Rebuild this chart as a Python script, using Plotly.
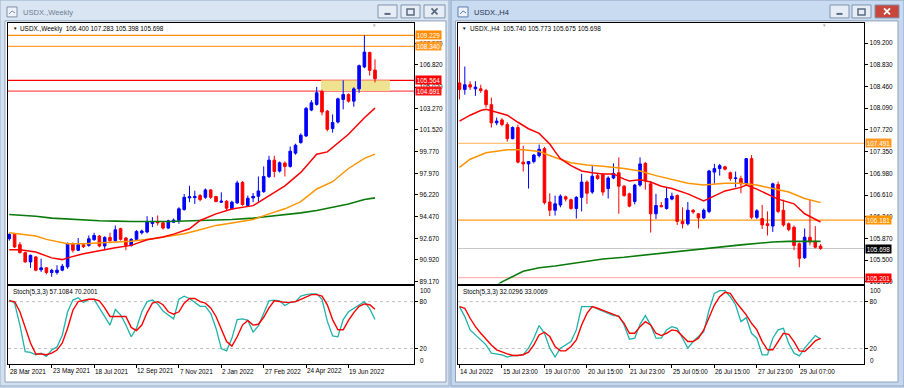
import plotly.graph_objects as go

W, H = 904, 388
def fx(x): return x / W
def fy(y): return 1 - y / H

FONT = "Liberation Sans"

# ---------------- weekly data ----------------
wk_labels = ["28 Mar 2021", "23 May 2021", "18 Jul 2021", "12 Sep 2021", "7 Nov 2021",
             "2 Jan 2022", "27 Feb 2022", "24 Apr 2022", "19 Jun 2022"]
wk_label_idx = [0, 8, 16, 24, 32, 40, 48, 56, 64]
wk_open = [92.66, 93.00, 92.17, 91.52, 90.76, 91.17, 90.12, 90.28, 89.90, 89.90,
           90.09, 90.36, 92.25, 91.71, 92.17, 92.11, 92.57, 92.87, 92.06, 92.76,
           92.49, 93.47, 92.71, 92.11, 92.60, 93.14, 93.20, 93.90, 94.06, 93.95,
           93.52, 94.00, 94.14, 95.03, 95.98, 96.00, 96.17, 96.03, 96.63, 96.09,
           95.63, 95.71, 95.09, 95.57, 97.25, 95.36, 95.98, 96.11, 96.49, 97.71,
           99.06, 98.17, 98.82, 98.55, 99.63, 100.49, 101.03, 103.14, 103.60, 104.66,
           103.06, 101.63, 102.17, 104.01, 104.41, 103.87, 104.87, 106.66, 107.84, 106.400]
wk_high = [93.10, 93.05, 92.38, 91.60, 91.35, 91.25, 91.03, 90.35, 90.20, 90.49,
           90.60, 92.35, 92.35, 92.71, 92.30, 92.92, 93.14, 92.95, 92.85, 93.14,
           93.73, 93.55, 92.80, 92.70, 93.35, 93.40, 94.49, 94.41, 94.55, 94.00,
           94.20, 94.30, 95.22, 96.30, 96.97, 96.57, 96.30, 96.75, 96.70, 96.15,
           96.44, 95.80, 95.75, 97.38, 97.35, 96.17, 96.38, 97.73, 98.55, 99.41,
           99.41, 98.95, 98.95, 100.17, 100.40, 101.25, 103.40, 103.95, 105.03, 104.80,
           103.15, 102.79, 104.15, 105.57, 104.50, 105.00, 106.85, 109.23, 107.90, 107.283]
wk_low = [92.50, 91.90, 91.45, 90.70, 90.28, 90.00, 89.95, 89.75, 89.55, 89.73,
          90.00, 90.20, 91.52, 91.65, 91.90, 92.00, 92.50, 91.95, 91.71, 92.40,
          92.40, 92.50, 91.71, 92.00, 92.50, 93.00, 93.10, 93.60, 93.73, 93.40,
          93.45, 93.95, 93.87, 94.95, 95.63, 95.49, 95.70, 95.90, 95.90, 95.63,
          95.57, 94.95, 95.00, 95.50, 95.35, 95.30, 95.63, 95.63, 96.40, 97.60,
          97.66, 98.05, 97.73, 98.45, 99.50, 100.40, 100.95, 103.05, 103.50, 102.71,
          101.41, 101.30, 102.05, 103.20, 103.75, 103.41, 104.55, 106.55, 105.95, 105.398]
wk_close = [93.00, 91.98, 91.52, 90.76, 91.30, 90.09, 90.28, 89.90, 90.08, 90.09,
            90.41, 92.25, 91.71, 92.17, 92.00, 92.65, 92.92, 92.06, 92.76, 92.49,
            93.38, 92.60, 92.11, 92.60, 93.25, 93.28, 94.06, 94.05, 93.95, 93.52,
            94.11, 94.17, 95.09, 96.03, 96.08, 96.10, 95.84, 96.63, 96.03, 95.68,
            95.71, 95.14, 95.63, 97.20, 95.44, 95.95, 96.11, 96.55, 97.73, 99.06,
            98.14, 98.85, 98.55, 99.79, 100.28, 101.09, 103.28, 103.74, 104.55, 102.98,
            101.57, 102.12, 104.06, 104.41, 103.87, 104.87, 106.76, 107.87, 106.38, 105.698]

wk_ma_fast_x = [0, 2, 5, 8, 10, 11, 14, 17, 20, 23, 26, 29, 31, 34, 36, 39, 42, 46, 49, 52, 55, 58, 60, 61, 64, 67, 69]
wk_ma_fast_y = [91.76, 91.76, 91.57, 91.09, 90.95, 91.09, 91.43, 91.70, 91.92, 92.11, 92.57, 92.79, 93.03, 93.46,
                94.14, 94.68, 95.08, 95.35, 96.16, 96.97, 98.06, 99.54, 99.73, 100.09, 101.17, 102.52, 103.30]
wk_ma_mid_x = [0, 2, 5, 7, 10, 11, 14, 17, 20, 23, 27, 30, 33, 36, 39, 42, 46, 49, 52, 55, 58, 61, 64, 67, 69]
wk_ma_mid_y = [93.14, 93.03, 92.87, 92.60, 92.33, 92.25, 92.25, 92.31, 92.39, 92.44, 92.66, 92.87, 93.06, 93.39,
               93.74, 93.93, 94.22, 94.68, 95.09, 95.68, 96.71, 97.30, 98.38, 99.20, 99.55]
wk_ma_slow_x = [0, 5, 8, 11, 14, 17, 20, 23, 30, 33, 36, 42, 46, 49, 52, 55, 58, 61, 64, 67, 69]
wk_ma_slow_y = [94.63, 94.49, 94.33, 94.25, 94.20, 94.12, 94.09, 94.06, 94.06, 94.09, 94.14, 94.22, 94.33, 94.47,
                94.60, 94.76, 94.95, 95.20, 95.49, 95.85, 95.98]

wk_stoch_k = [82, 78, 50, 16, 15, 12, 14, 10, 18, 22, 37, 67, 82, 85, 79, 83, 83, 72, 60, 50,
              70, 63, 50, 35, 46, 67, 80, 82, 77, 68, 63, 58, 83, 87, 84, 79, 74, 74, 65, 46,
              20, 17, 33, 57, 58, 56, 41, 49, 64, 81, 82, 81, 75, 79, 80, 87, 89, 90, 90, 83,
              55, 36, 35, 57, 67, 71, 76, 80, 71, 57.1084]
wk_stoch_d = [81, 80, 67, 46, 27, 13, 13, 12, 14, 18, 27, 46, 69, 80, 82, 83, 83, 81, 72, 61,
              61, 61, 61, 47, 43, 50, 66, 78, 80, 76, 67, 64, 67, 78, 84, 84, 80, 78, 72, 61,
              46, 29, 23, 35, 50, 56, 50, 51, 60, 72, 81, 80, 79, 79, 80, 83, 86, 89, 89, 87,
              76, 57, 44, 44, 56, 66, 74, 77, 76, 70.2001]

wk_levels = [109.229, 108.340, 105.564, 104.691]
wk_zone = [105.564, 104.691]

# ---------------- H4 data ----------------
h4_labels = ["14 Jul 2022", "15 Jul 23:00", "19 Jul 07:00", "20 Jul 15:00", "21 Jul 23:00",
             "25 Jul 05:00", "26 Jul 15:00", "27 Jul 23:00", "29 Jul 07:00"]
h4_label_idx = [0, 8, 16, 24, 32, 40, 48, 56, 64]
h4_open = [108.52, 108.41, 108.49, 108.42, 108.42, 108.39, 108.15, 107.84, 107.89, 107.81,
           107.57, 107.76, 107.17, 107.14, 107.18, 107.28, 107.40, 106.49, 106.35, 106.44,
           106.58, 106.53, 106.38, 106.57, 106.83, 106.66, 106.94, 106.96, 106.72, 106.90,
           106.99, 106.76, 106.63, 106.50, 106.78, 107.15, 106.80, 106.29, 106.43, 106.38,
           106.54, 106.60, 106.16, 106.12, 106.35, 106.29, 106.22, 106.33, 107.00, 107.06,
           107.09, 106.99, 106.89, 106.89, 106.80, 107.23, 106.23, 106.21, 106.12, 106.08,
           106.79, 106.35, 106.12, 106.06, 105.78, 105.54, 105.89, 105.82, 105.740]
h4_high = [109.14, 108.80, 108.55, 108.55, 108.49, 108.42, 108.27, 107.93, 107.92, 107.85,
           107.78, 107.81, 107.45, 107.19, 107.31, 107.47, 107.43, 106.64, 106.60, 106.62,
           106.60, 106.55, 106.59, 106.97, 106.86, 107.11, 106.98, 106.98, 106.93, 107.15,
           107.25, 106.78, 106.65, 106.80, 107.25, 107.17, 106.85, 106.63, 106.49, 106.74,
           106.65, 106.62, 106.40, 106.49, 106.37, 106.30, 106.38, 107.04, 107.14, 107.14,
           107.11, 107.01, 107.01, 106.94, 107.24, 107.29, 106.37, 106.44, 106.33, 106.82,
           106.84, 106.53, 106.14, 106.09, 105.80, 106.04, 106.53, 106.08, 105.773]
h4_low = [108.24, 108.32, 108.40, 108.30, 108.35, 108.10, 107.76, 107.80, 107.78, 107.52,
          107.56, 107.15, 107.01, 106.72, 107.15, 107.25, 106.45, 106.25, 106.26, 106.40,
          106.50, 106.36, 106.21, 106.33, 106.46, 106.63, 106.87, 106.60, 106.55, 106.88,
          106.29, 106.58, 106.40, 106.45, 106.75, 106.70, 105.97, 106.20, 106.40, 106.36,
          106.52, 106.10, 106.04, 106.09, 106.29, 106.04, 106.20, 106.30, 106.80, 106.94,
          107.03, 106.85, 106.74, 106.64, 106.77, 106.20, 106.20, 106.03, 105.92, 105.98,
          106.30, 106.07, 105.99, 105.67, 105.38, 105.52, 105.75, 105.70, 105.675]
h4_close = [108.41, 108.49, 108.45, 108.45, 108.39, 108.15, 107.84, 107.87, 107.81, 107.57,
            107.76, 107.17, 107.14, 107.18, 107.29, 107.39, 106.48, 106.35, 106.46, 106.59,
            106.54, 106.38, 106.57, 106.83, 106.64, 106.93, 106.89, 106.66, 106.90, 106.98,
            106.76, 106.60, 106.42, 106.78, 107.14, 106.85, 106.29, 106.43, 106.41, 106.55,
            106.59, 106.16, 106.12, 106.35, 106.32, 106.22, 106.35, 107.02, 107.06, 107.11,
            107.05, 106.89, 106.90, 106.80, 107.23, 106.23, 106.34, 106.10, 106.09, 106.80,
            106.33, 106.10, 106.02, 105.75, 105.53, 105.89, 105.81, 105.72, 105.698]

h4_ma_fast_x = [0, 2, 4, 5, 7, 9, 11, 13, 15, 17, 18, 19, 21, 23, 25, 27, 29, 31, 32, 34, 36, 38, 40, 43, 46,
                48, 50, 53, 54, 56, 58, 60, 63, 65, 68]
h4_ma_fast_y = [107.87, 107.97, 108.05, 108.07, 108.02, 107.97, 107.85, 107.74, 107.66, 107.48, 107.35, 107.23,
                107.11, 107.02, 106.99, 106.97, 106.97, 106.88, 106.85, 106.87, 106.83, 106.76, 106.72, 106.63,
                106.51, 106.60, 106.68, 106.74, 106.78, 106.71, 106.63, 106.54, 106.46, 106.29, 106.15]
h4_ma_mid_x = [0, 2, 5, 9, 12, 15, 18, 21, 24, 27, 31, 34, 37, 40, 43, 46, 50, 53, 56, 59, 62, 65, 68]
h4_ma_mid_y = [107.08, 107.22, 107.33, 107.38, 107.38, 107.35, 107.25, 107.16, 107.12, 107.10, 107.06, 107.02,
               106.94, 106.88, 106.81, 106.78, 106.81, 106.81, 106.78, 106.72, 106.66, 106.55, 106.48]
h4_ma_slow_x = [5, 8, 12, 15, 18, 21, 24, 27, 31, 34, 40, 46, 53, 59, 62, 68]
h4_ma_slow_y = [104.95, 105.13, 105.31, 105.37, 105.40, 105.44, 105.48, 105.52, 105.55, 105.58, 105.63,
                105.69, 105.76, 105.81, 105.82, 105.82]

h4_stoch_k = [73.6, 60.8, 43.8, 37.4, 31, 24.6, 14, 13.2, 11.9, 8.9, 11, 11, 12, 20.4, 33.2, 49.3, 39.5,
              20.4, 9, 20.4, 24.6, 28.9, 43.8, 73.6, 73.6, 73.6, 70.6, 68, 65, 62.1, 61.7, 50.2, 31.9, 33.2,
              51, 62.1, 50.2, 33.2, 33.2, 43.8, 48, 45.9, 33.2, 20.4, 28.9, 35.3, 41.7, 69.3, 90.6, 94, 94,
              86.3, 75.7, 54.4, 59.5, 39.5, 33.2, 11.9, 11.9, 33.2, 43.8, 45.9, 26.8, 14, 10.6, 20.4, 28.9,
              36.6, 32.0296]
h4_stoch_d = [73.6, 71.5, 58.7, 48, 39.5, 31.9, 24.6, 18.3, 15.3, 13.2, 11, 11, 12, 15.3, 24.6, 37.4, 40.8,
              35.3, 22.5, 17, 17, 22.5, 31, 50.2, 65, 73.6, 71.5, 69.3, 66.3, 63.8, 60.8, 52.3, 39.5, 39.5,
              48, 54.4, 50.2, 39.5, 36.6, 39.5, 43.8, 42.5, 35.3, 28.9, 28.9, 33.2, 43.8, 60.8, 75.7, 86.3,
              91.9, 90.6, 80, 71.5, 63, 52.3, 43.8, 28.9, 18.3, 18.3, 28.9, 39.5, 38.2, 28.9, 17, 16.1, 22.5,
              29.8, 33.0069]

h4_levels = [107.491, 106.181, 105.698, 105.201]

wk_yticks = [89.170, 90.920, 92.670, 94.470, 96.220, 97.970, 99.770, 101.520, 103.270, 105.020, 106.820, 108.570]
h4_yticks = [105.130, 105.500, 105.870, 106.240, 106.610, 106.980, 107.350, 107.720, 108.090, 108.460, 108.830, 109.200]

# ---------------- figure ----------------
fig = go.Figure()

BLUE, RED, ORANGE, GREEN, TEAL = "#0000ff", "#ff0000", "#ff9400", "#0a7a0a", "#20b2aa"

def add_panel(sfx_main, sfx_st, n, o, h, l, c, mf, mm, ms, sk, sd):
    xa, ya = "x" + sfx_main, "y" + sfx_main
    xs, ys = "x" + sfx_st, "y" + sfx_st
    idx = list(range(n))
    fig.add_trace(go.Scatter(x=ms[0], y=ms[1], mode="lines", line=dict(color=GREEN, width=1.6),
                             xaxis=xa, yaxis=ya, hoverinfo="skip"))
    fig.add_trace(go.Scatter(x=mm[0], y=mm[1], mode="lines", line=dict(color=ORANGE, width=1.5),
                             xaxis=xa, yaxis=ya, hoverinfo="skip"))
    fig.add_trace(go.Scatter(x=mf[0], y=mf[1], mode="lines", line=dict(color=RED, width=1.5),
                             xaxis=xa, yaxis=ya, hoverinfo="skip"))
    fig.add_trace(go.Candlestick(x=idx, open=o, high=h, low=l, close=c, xaxis=xa, yaxis=ya,
                                 increasing=dict(line=dict(color=BLUE, width=1), fillcolor=BLUE),
                                 decreasing=dict(line=dict(color=RED, width=1), fillcolor=RED),
                                 whiskerwidth=0, hoverinfo="skip"))
    fig.add_trace(go.Scatter(x=idx, y=sk, mode="lines", line=dict(color=TEAL, width=1.3),
                             xaxis=xs, yaxis=ys, hoverinfo="skip"))
    fig.add_trace(go.Scatter(x=idx, y=sd, mode="lines", line=dict(color=RED, width=1.4),
                             xaxis=xs, yaxis=ys, hoverinfo="skip"))

add_panel("", "2", len(wk_open), wk_open, wk_high, wk_low, wk_close,
          (wk_ma_fast_x, wk_ma_fast_y), (wk_ma_mid_x, wk_ma_mid_y), (wk_ma_slow_x, wk_ma_slow_y),
          wk_stoch_k, wk_stoch_d)
add_panel("3", "4", len(h4_open), h4_open, h4_high, h4_low, h4_close,
          (h4_ma_fast_x, h4_ma_fast_y), (h4_ma_mid_x, h4_ma_mid_y), (h4_ma_slow_x, h4_ma_slow_y),
          h4_stoch_k, h4_stoch_d)

# panel geometry (pixels)
L_X0, L_X1 = 8, 414.3
R_X0, R_X1 = 457.7, 864.3
M_Y0, M_Y1 = 22.7, 285
S_Y0, S_Y1 = 287.5, 366

tickfont = dict(family=FONT, size=6.4, color="black")
axcommon = dict(showline=True, mirror=True, linecolor="black", linewidth=1, showgrid=False,
                zeroline=False, fixedrange=True)

def xspan(x0, x1, bar0, step):
    return [(x0 - bar0) / step, (x1 - bar0) / step]

wk_xr = xspan(L_X0, L_X1, 9.3, 5.3)
h4_xr = xspan(R_X0, R_X1, 459.5, 5.31)

lay = dict(
    width=W, height=H, margin=dict(l=0, r=0, t=0, b=0), autosize=False,
    paper_bgcolor="#c6d6ea", plot_bgcolor="white", showlegend=False,
    xaxis=dict(domain=[fx(L_X0), fx(L_X1)], range=wk_xr, anchor="y", showticklabels=False, ticks="",
               rangeslider=dict(visible=False), **axcommon),
    yaxis=dict(domain=[fy(M_Y1), fy(M_Y0)], range=[89.0, 110.275], anchor="x", side="right",
               tickvals=wk_yticks, ticktext=[f"{v:.3f}" for v in wk_yticks], ticks="outside",
               ticklen=3, tickcolor="black", tickfont=tickfont, **axcommon),
    xaxis2=dict(domain=[fx(L_X0), fx(L_X1)], range=wk_xr, anchor="y2", showticklabels=False,
                ticks="outside", ticklen=3, tickcolor="black", tickvals=wk_label_idx, **axcommon),
    yaxis2=dict(domain=[fy(S_Y1), fy(S_Y0)], range=[0, 100], anchor="x2", side="right",
                tickvals=[20, 80], ticktext=["20", "80"], ticks="outside", ticklen=3, tickcolor="black",
                tickfont=tickfont, **axcommon),
    xaxis3=dict(domain=[fx(R_X0), fx(R_X1)], range=h4_xr, anchor="y3", showticklabels=False, ticks="",
                rangeslider=dict(visible=False), **axcommon),
    yaxis3=dict(domain=[fy(M_Y1), fy(M_Y0)], range=[105.101, 109.549], anchor="x3", side="right",
                tickvals=h4_yticks, ticktext=[f"{v:.3f}" for v in h4_yticks], ticks="outside",
                ticklen=3, tickcolor="black", tickfont=tickfont, **axcommon),
    xaxis4=dict(domain=[fx(R_X0), fx(R_X1)], range=h4_xr, anchor="y4", showticklabels=False,
                ticks="outside", ticklen=3, tickcolor="black", tickvals=h4_label_idx, **axcommon),
    yaxis4=dict(domain=[fy(S_Y1), fy(S_Y0)], range=[0, 100], anchor="x4", side="right",
                tickvals=[20, 80], ticktext=["20", "80"], ticks="outside", ticklen=3, tickcolor="black",
                tickfont=tickfont, **axcommon),
)
fig.update_layout(**lay)

shapes = []
ann = []

def rect(x0, y0, x1, y1, fill, line=None, lw=1, layer="below"):
    shapes.append(dict(type="rect", xref="paper", yref="paper", x0=fx(x0), x1=fx(x1), y0=fy(y1), y1=fy(y0),
                       fillcolor=fill, line=dict(color=line or fill, width=lw if line else 0), layer=layer))

def pline(x0, y0, x1, y1, color, w=1, layer="above"):
    shapes.append(dict(type="line", xref="paper", yref="paper", x0=fx(x0), x1=fx(x1), y0=fy(y0), y1=fy(y1),
                       line=dict(color=color, width=w), layer=layer))

# ---- window chrome ----
rect(0, 0, 449, 388, "#d3e0f0", "#9db1c9")          # left window frame
rect(451, 0, 904, 388, "#c4d7ee", "#8ea6c4")        # right window frame
rect(1, 1, 448, 20, "#dae5f3")
rect(452, 1, 903, 20, "#c9dbf1")
rect(5, 21, 446, 384, "white", "#8fa2ba")
rect(455.5, 21, 898, 384, "white", "#8fa2ba")
# title icons
for x0, col in ((7, "#7f8fa8"), (458, "#5a7bb0")):
    rect(x0, 7, x0 + 10, 17, "#eef3fa", col, layer="above")
    pline(x0 + 2, 14, x0 + 5, 11, col)
    pline(x0 + 5, 11, x0 + 8, 13, col)
ann.append(dict(x=fx(21), y=fy(12.5), xref="paper", yref="paper", text="USDX.,Weekly", showarrow=False,
                xanchor="left", yanchor="middle", font=dict(family=FONT, size=7.6, color="#6e7d91")))
ann.append(dict(x=fx(472), y=fy(12.5), xref="paper", yref="paper", text="USDX.,H4", showarrow=False,
                xanchor="left", yanchor="middle", font=dict(family=FONT, size=7.6, color="#1f3553")))
# buttons
def buttons(xs, active):
    for i, (a, b) in enumerate(xs):
        close = i == 2
        fill = "#c8463c" if (close and active) else "#e6edf7"
        rect(a, 5, b, 18, fill, "#7f93ad", layer="above")
        mid = (a + b) / 2
        col = "white" if (close and active) else "#5b6b80"
        if i == 0:
            pline(mid - 3, 14, mid + 3, 14, col, 2)
        elif i == 1:
            shapes.append(dict(type="rect", xref="paper", yref="paper", x0=fx(mid - 3.5), x1=fx(mid + 3.5),
                               y0=fy(15), y1=fy(9), line=dict(color=col, width=1.5), layer="above"))
        else:
            pline(mid - 3, 8.5, mid + 3, 14.5, col, 1.8)
            pline(mid - 3, 14.5, mid + 3, 8.5, col, 1.8)
buttons([(378, 397), (401, 420), (424, 445)], False)
buttons([(830, 849), (852, 871), (875, 899)], True)

# ---- horizontal levels ----
wk_level_cols = ["#ff8c00", "#ffa030", "#ff0000", "#ff5050"]
for v, col in zip(wk_levels, wk_level_cols):
    shapes.append(dict(type="line", xref="x", yref="y", x0=wk_xr[0], x1=wk_xr[1], y0=v, y1=v,
                       line=dict(color=col, width=1.2), layer="below"))
shapes.append(dict(type="rect", xref="x", yref="y", x0=58.8, x1=71.8, y0=wk_zone[1], y1=wk_zone[0],
                   fillcolor="#efe291", line=dict(width=0), layer="below"))
h4_level_cols = ["#ffc27a", "#ff9a1a", "#c8c8c8", "#ffb4b4"]
for v, col in zip(h4_levels, h4_level_cols):
    shapes.append(dict(type="line", xref="x3", yref="y3", x0=h4_xr[0], x1=h4_xr[1], y0=v, y1=v,
                       line=dict(color=col, width=1.2), layer="below"))
# stochastic level lines
for xr_, xa, ya in ((wk_xr, "x2", "y2"), (h4_xr, "x4", "y4")):
    for v in (20, 80):
        shapes.append(dict(type="line", xref=xa, yref=ya, x0=xr_[0], x1=xr_[1], y0=v, y1=v,
                           line=dict(color="#c0c0c0", width=1, dash="dot"), layer="below"))

# ---- price tags ----
def tag(xpix, yref, v, bg, fg="white"):
    ann.append(dict(x=fx(xpix), y=v, xref="paper", yref=yref, text=f"{v:.3f}", showarrow=False,
                    xanchor="left", yanchor="middle", bgcolor=bg, width=25, height=8, borderpad=0,
                    align="center", font=dict(family=FONT, size=6.4, color=fg)))
tag(414.8, "y", wk_levels[0], "#ff8c00")
tag(414.8, "y", wk_levels[1], "#ff9a26")
tag(414.8, "y", wk_levels[2], "#ff0000")
tag(414.8, "y", wk_levels[3], "#ff1a1a")
tag(864.8, "y3", h4_levels[0], "#ff9a26")
tag(864.8, "y3", h4_levels[1], "#ff9400")
tag(864.8, "y3", h4_levels[2], "#000000")
tag(864.8, "y3", h4_levels[3], "#ff0000")

# ---- headers ----
def text(xpix, ypix, s, size=6.4, color="black", anchor="left"):
    ann.append(dict(x=fx(xpix), y=fy(ypix), xref="paper", yref="paper", text=s, showarrow=False,
                    xanchor=anchor, yanchor="middle", font=dict(family=FONT, size=size, color=color)))
text(10.5, 29, "▼", 4.5)
text(18, 29, "USDX.,Weekly  106.400 107.283 105.398 105.698")
text(460, 29, "▼", 4.5)
text(468, 29, "USDX.,H4  105.740 105.773 105.675 105.698")
text(11, 293.5, "Stoch(5,3,3) 57.1084 70.2001")
text(461, 293.5, "Stoch(5,3,3) 32.0296 33.0069")
text(369.5, 25.5, "▼", 4.5, "#a8a8a8")
text(819.5, 25.5, "▼", 4.5, "#a8a8a8")
for xb in (418, 868):
    text(xb, 292, "100")
    text(xb, 362, "0")

# date labels
for i, s in zip(wk_label_idx, wk_labels):
    ann.append(dict(x=i, y=fy(373), xref="x2", yref="paper", text=s, showarrow=False, xanchor="left",
                    yanchor="middle", xshift=-1.2, font=dict(family=FONT, size=6.4, color="black")))
for i, s in zip(h4_label_idx, h4_labels):
    ann.append(dict(x=i, y=fy(373), xref="x4", yref="paper", text=s, showarrow=False, xanchor="left",
                    yanchor="middle", xshift=-1.2, font=dict(family=FONT, size=6.4, color="black")))

fig.update_layout(shapes=shapes, annotations=ann)
fig.write_html("out.html", config={"displayModeBar": False},
               post_script="document.body.style.margin='0';document.body.style.overflow='hidden';")
